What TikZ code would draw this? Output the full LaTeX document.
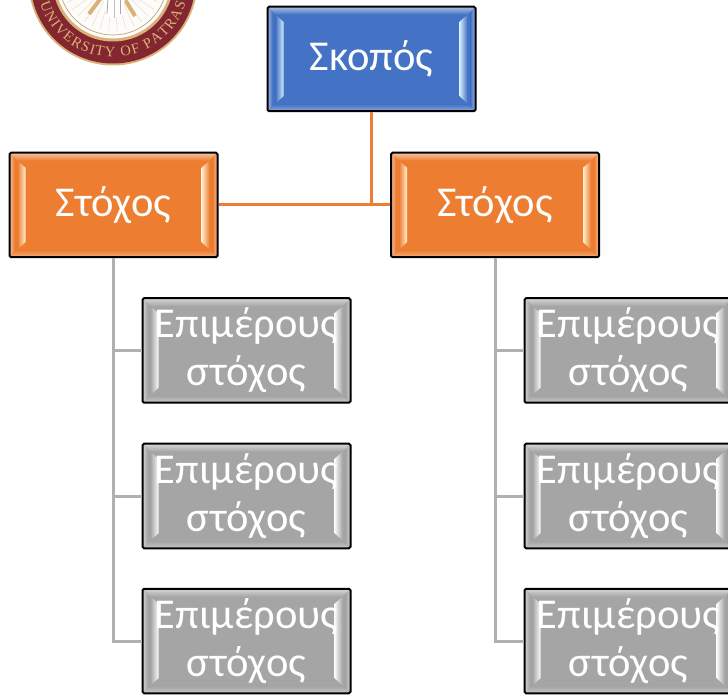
\documentclass[tikz,border=0pt]{standalone}
\usepackage{fontspec}
\setmainfont{Carlito}
\newfontfamily\sealfont{Liberation Serif}
\usetikzlibrary{decorations.text,calc}
\definecolor{bluebase}{HTML}{4472C4}
\definecolor{bluehi}{HTML}{D2ECFF}
\definecolor{orangebase}{HTML}{ED7D31}
\definecolor{orangehi}{HTML}{FFF0D0}
\definecolor{graybase}{HTML}{A5A5A5}
\definecolor{grayhi}{HTML}{FAFAFA}
\definecolor{orangeline}{HTML}{ED7D31}
\definecolor{grayline}{HTML}{B0B0B0}
\definecolor{sealred}{HTML}{84262F}
\definecolor{sealgold}{HTML}{D9B27A}
\newcommand{\dn}[1]{\raisebox{-4.5pt}{#1}}
\tikzset{
  bevelbox/.style n args={2}{
    draw=black, line width=2pt, rounded corners=1.5pt, fill=#1,
    minimum width=208pt, minimum height=104.5pt, inner sep=0pt,
    text=white, align=center, font=\fontsize{42.5}{48}\selectfont,
    path picture={
      \coordinate (SW) at (path picture bounding box.south west);
      \coordinate (NE) at (path picture bounding box.north east);
      \shade[top color=#1!45!white, bottom color=#1, sharp corners]
        (SW|-NE) -- (NE) -- ($(NE)+(-8pt,-8pt)$) -- ($(SW|-NE)+(8pt,-8pt)$) -- cycle;
      \shade[top color=#1, bottom color=#1!60!white, sharp corners]
        (SW) -- (SW-|NE) -- ($(SW-|NE)+(-8pt,7pt)$) -- ($(SW)+(8pt,7pt)$) -- cycle;
      \shade[left color=#1!50!white, right color=#1, sharp corners]
        (SW) -- (SW|-NE) -- ($(SW|-NE)+(5pt,-5pt)$) -- ($(SW)+(5pt,5pt)$) -- cycle;
      \shade[right color=#1!50!white, left color=#1, sharp corners]
        (SW-|NE) -- (NE) -- ($(NE)+(-5pt,-5pt)$) -- ($(SW-|NE)+(-5pt,5pt)$) -- cycle;
      \shade[left color=#1, right color=#2, sharp corners]
        ($(SW)+(8pt,8pt)$) -- ($(SW|-NE)+(8pt,-8pt)$) -- ($(SW|-NE)+(16pt,-15pt)$) -- ($(SW)+(16pt,15pt)$) -- cycle;
      \shade[right color=#1, left color=#2, sharp corners]
        ($(SW-|NE)+(-8pt,8pt)$) -- ($(NE)+(-8pt,-8pt)$) -- ($(NE)+(-16pt,-15pt)$) -- ($(SW-|NE)+(-16pt,15pt)$) -- cycle;
    }
  },
  goalblue/.style={bevelbox={bluebase}{bluehi}},
  goalorange/.style={bevelbox={orangebase}{orangehi}},
  goalgray/.style={bevelbox={graybase}{grayhi}},
  orangelink/.style={draw=orangeline, line width=3pt},
  graylink/.style={draw=grayline, line width=3pt},
}
\begin{document}
\begin{tikzpicture}[x=1pt,y=1pt]
\useasboundingbox (0,0) rectangle (728,694);
\clip (0,0) rectangle (728,694);
% seal
\coordinate (sealc) at (113,713);
\fill[sealgold] (sealc) circle (84.5);
\fill[sealred] (sealc) circle (82.5);
\fill[sealgold] (sealc) circle (60.5);
\fill[white!96!sealgold] (sealc) circle (57.5);
\draw[sealgold!70!gray, line width=0.7pt] (sealc) circle (54);
\foreach \a in {205,215,...,335}{
  \draw[sealgold!40!white, line width=0.6pt] ($(sealc)+(\a:18)$) -- ($(sealc)+(\a:50)$);
}
\draw[sealgold, line width=4pt] (101,696) -- (89,680);
\draw[sealgold, line width=4pt] (124,696) -- (135,678);
\fill[white] (104,696) -- (125,696) -- (122,677) -- (106,677) -- cycle;
\draw[gray!70, line width=0.8pt] (108,696) -- (107,680);
\draw[gray!70, line width=0.8pt] (120,696) -- (120,680);
\draw[gray!50, line width=0.6pt] (114,696) -- (114,676);
\path[decorate, decoration={text along path, text align={fit to path},
  text={|\sealfont\fontsize{14.5}{15}\selectfont\color{sealgold}|UNIVERSITY OF PATRAS}}]
  ($(sealc)+(197:76)$) arc[start angle=197, end angle=343, radius=76];
% boxes
\node[goalblue] (top) at (371.5,635) {\dn{Σκοπός}};
\node[goalorange] (goalL) at (113.5,489) {\dn{Στόχος}};
\node[goalorange] (goalR) at (495,489) {\dn{Στόχος}};
\node[goalgray] (a1) at (246.5,343.5) {\dn{Επιμέρους}\\\dn{στόχος}};
\node[goalgray] (a2) at (246.5,198) {\dn{Επιμέρους}\\\dn{στόχος}};
\node[goalgray] (a3) at (246.5,53) {\dn{Επιμέρους}\\\dn{στόχος}};
\node[goalgray] (b1) at (628.5,343.5) {\dn{Επιμέρους}\\\dn{στόχος}};
\node[goalgray] (b2) at (628.5,198) {\dn{Επιμέρους}\\\dn{στόχος}};
\node[goalgray] (b3) at (628.5,53) {\dn{Επιμέρους}\\\dn{στόχος}};
% connectors
\draw[orangelink] (top.south) |- (goalR.west);
\draw[orangelink] (goalL.east) -- (goalR.west);
\draw[graylink] (goalL.south) |- (a3.west);
\draw[graylink] (goalL.south |- a1.west) -- (a1.west);
\draw[graylink] (goalL.south |- a2.west) -- (a2.west);
\draw[graylink] (goalR.south) |- (b3.west);
\draw[graylink] (goalR.south |- b1.west) -- (b1.west);
\draw[graylink] (goalR.south |- b2.west) -- (b2.west);
\end{tikzpicture}
\end{document}
